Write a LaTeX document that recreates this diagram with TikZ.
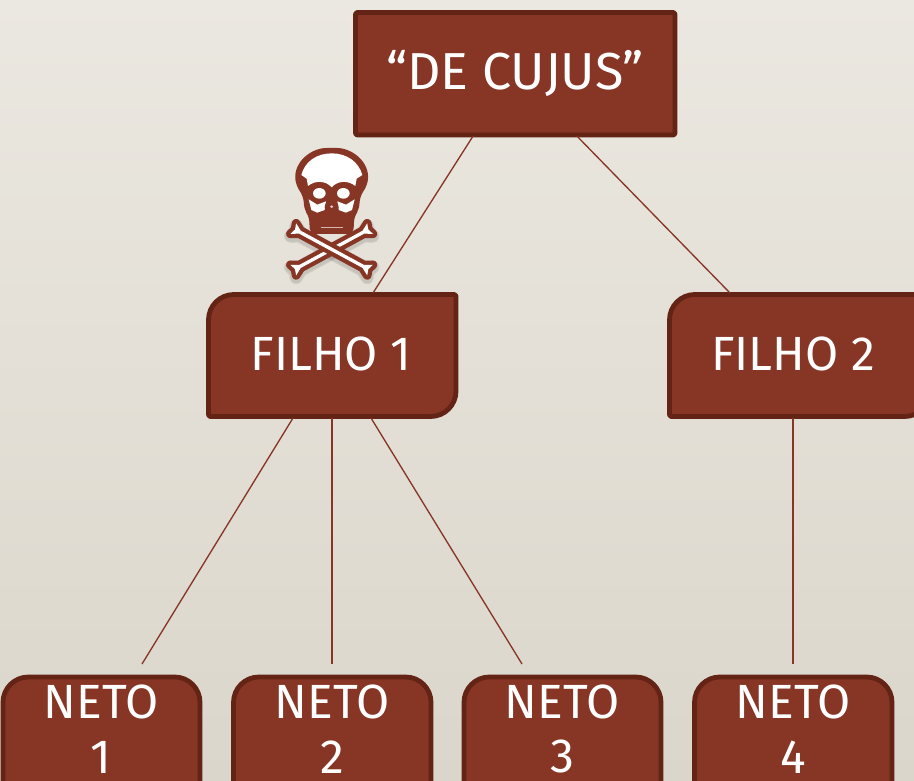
\documentclass[tikz,border=0pt]{standalone}
\usepackage{fontspec}
\setmainfont{Fira Sans}
\usetikzlibrary{calc}
\definecolor{rust}{HTML}{873524}
\definecolor{rustdark}{HTML}{642415}
\definecolor{bgtop}{HTML}{EBE8E1}
\definecolor{bgbot}{HTML}{DBD6CB}
\tikzset{
  boxpath/.style={fill=rust,draw=rustdark,line width=3.6pt,line join=round},
  boxlabel/.style={inner sep=0pt,outer sep=0pt,text=white,align=center,font=\fontsize{36}{41}\selectfont},
  toplabel/.style={boxlabel,font=\fontsize{39}{44}\selectfont},
  link/.style={draw=rust,line width=1pt},
  skullink/.style={fill=rust,draw=none},
  skullwhite/.style={fill=white,draw=none},
  bonebody/.style={preaction={draw=rust,line width=6.5pt,line join=round},fill=white},
  boneshadow/.style={draw=black,fill=black,opacity=.07,line join=round},
}
\newcommand{\diagbox}[4]{%
  \draw[boxpath] (#1+60,#2) [rounded corners=1.5pt] -- (#3,#2) [rounded corners=19pt] -- (#3,#4) [rounded corners=1.5pt] -- (#1,#4) [rounded corners=19pt] -- (#1,#2) [sharp corners] -- cycle;}
\newcommand{\boneshape}{(-131,-18) -- (-108,-5) -- (108,-5) -- (131,-18) -- (125,0) -- (131,18) -- (108,5) -- (-108,5) -- (-131,18) -- (-125,0) -- cycle}
\begin{document}
\begin{tikzpicture}[x=0.75pt,y=-0.75pt]
\useasboundingbox (0,0) rectangle (914,781);
\clip (0,0) rectangle (914,781);
\shade[top color=bgtop,bottom color=bgbot] (0,0) rectangle (914,781);

% boxes
\draw[boxpath,rounded corners=1.5pt] (355.5,12.5) rectangle (675,135);
\diagbox{208.5}{294.5}{456}{416.5}
\diagbox{669.5}{294.5}{930}{416.5}
\draw[boxpath,rounded corners=19pt] (3,677) rectangle (200,830);
\draw[boxpath,rounded corners=19pt] (233.5,677) rectangle (431,830);
\draw[boxpath,rounded corners=19pt] (464,677) rectangle (661,830);
\draw[boxpath,rounded corners=19pt] (694.5,677) rectangle (892,830);

% labels
\node[toplabel,minimum width=241.5pt,minimum height=94pt] (dc) at (515,73.5) {“DE CUJUS”};
\node[boxlabel,minimum width=187.5pt,minimum height=94pt] (f1) at (331,354) {FILHO 1};
\node[boxlabel,minimum width=187.5pt,minimum height=94pt] (f2) at (793,354) {FILHO 2};
\node[boxlabel,minimum width=149pt] (n1) at (101,729) {NETO\\1};
\node[boxlabel,minimum width=149pt] (n2) at (332,729) {NETO\\2};
\node[boxlabel,minimum width=149pt] (n3) at (562,729) {NETO\\3};
\node[boxlabel,minimum width=149pt] (n4) at (793,729) {NETO\\4};

% free ends of the connectors
\coordinate (e1) at (142,664);
\coordinate (e2) at (332,664);
\coordinate (e3) at (522,664);
\coordinate (e4) at (793,664);
\coordinate (t1) at (373,293);
\coordinate (t2) at (730,293);
\coordinate (s1) at (293,418);
\coordinate (s2) at (332,418);
\coordinate (s3) at (371,418);
\coordinate (s4) at (793,418);

\draw[link] ($(dc.south)+(-42,0)$) -- (t1);
\draw[link] ($(dc.south)+(62,0)$) -- (t2);
\draw[link] (s1) -- (e1);
\draw[link] (s2) -- (e2);
\draw[link] (s3) -- (e3);
\draw[link] (s4) -- (e4);

% skull and crossbones
\begin{scope}[shift={(260,130)},x=0.25pt,y=-0.25pt]
  % soft shadow
  \foreach \w in {10,8.5} {
    \path[boneshadow,line width=\w pt,shift={(215,365)},rotate=28.4] \boneshape;
    \path[boneshadow,line width=\w pt,shift={(215,365)},rotate=-28.4] \boneshape;
  }
  % bones
  \path[bonebody,shift={(215,358)},rotate=28.4] \boneshape;
  \path[bonebody,shift={(215,358)},rotate=-28.4] \boneshape;
  % skull outline
  \fill[skullink,rounded corners=4pt] (150,312) -- (147,258) -- (133,240) -- (130,200) -- (108,165)
    .. controls (100,95) and (155,54) .. (215,54)
    .. controls (275,54) and (330,95) .. (322,165)
    -- (300,200) -- (297,240) -- (283,258) -- (280,312) -- cycle;
  % cranium
  \fill[skullwhite] (124,135) .. controls (134,95) and (170,70) .. (215,70)
    .. controls (260,70) and (296,95) .. (307,135)
    -- (290,146) -- (286,168)
    .. controls (264,150) and (232,152) .. (215,172)
    .. controls (198,152) and (166,150) .. (144,168)
    -- (140,146) -- cycle;
  % cheeks
  \fill[skullwhite] (146,208) -- (172,224) -- (198,214) -- (194,240) -- (172,248) -- (154,240) -- cycle;
  \fill[skullwhite] (284,208) -- (258,224) -- (232,214) -- (236,240) -- (258,248) -- (276,240) -- cycle;
  % eyes
  \fill[skullwhite] (178,190) ellipse[x radius=19,y radius=16];
  \fill[skullwhite] (250,190) ellipse[x radius=19,y radius=16];
  % nose ring and hole
  \fill[skullink] (215,232) circle[radius=21];
  \fill[white!75!rust] (215,230) ellipse[x radius=5,y radius=4];
  % teeth
  \draw[white!65!rust,line width=.5pt] (182,293) -- (250,293);
\end{scope}
\end{tikzpicture}
\end{document}
